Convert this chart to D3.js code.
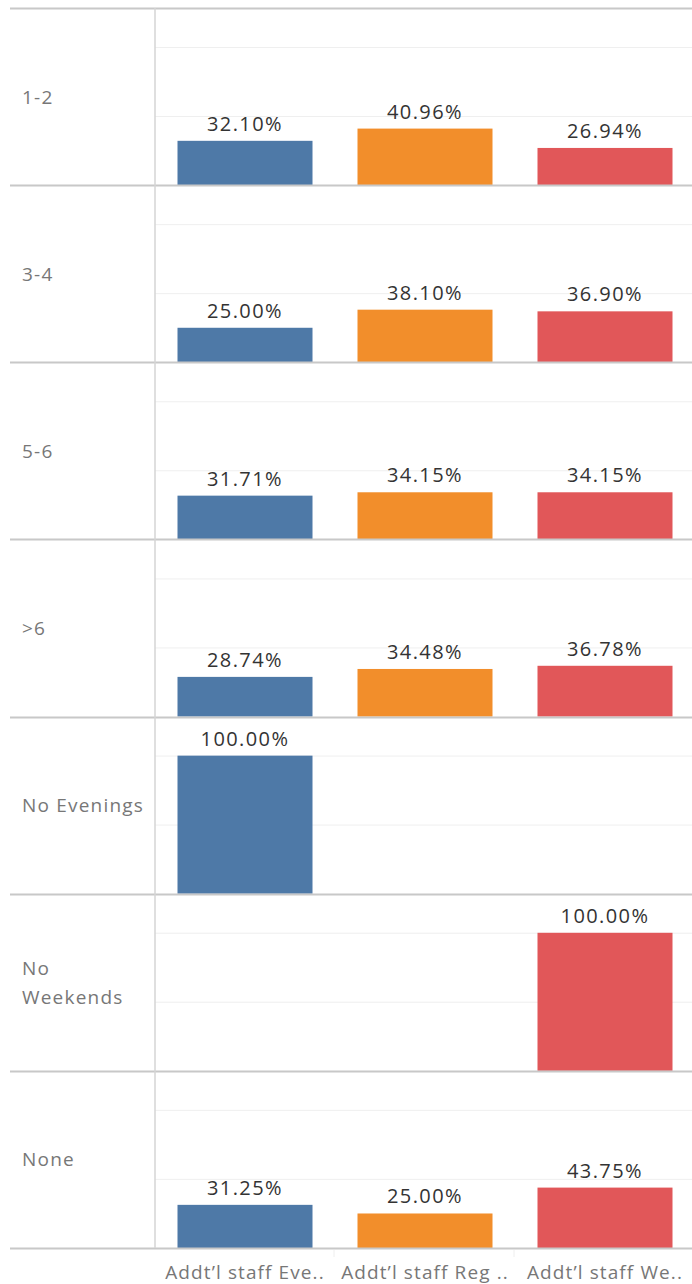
<!DOCTYPE html>
<html>
<head>
<meta charset="utf-8">
<script src="https://cdn.jsdelivr.net/npm/d3@7"></script>
<style>
  body { margin: 0; background: #fff; }
  svg text { font-family: "Open Sans", sans-serif; }
</style>
</head>
<body>
<div id="chart"></div>
<script>
// data
const rowLabels = ["1-2", "3-4", "5-6", ">6", "No Evenings", "No Weekends", "None"];
const colLabels = ["Addt\u2019l staff Eve..", "Addt\u2019l staff Reg ..", "Addt\u2019l staff We.."];
const evenings = [32.10, 25.00, 31.71, 28.74, 100.00, null, 31.25];
const regular  = [40.96, 38.10, 34.15, 34.48, null, null, 25.00];
const weekends = [26.94, 36.90, 34.15, 36.78, null, 100.00, 43.75];
const colors = ["#4e79a7", "#f28e2b", "#e15759"];
const gridTicks = [50, 100];

const W = 692, H = 1284;
const plotTop = 8, plotBottom = 1248, plotLeft = 10, divX = 155;
const series = [evenings, regular, weekends];

const svg = d3.select("#chart").append("svg")
  .attr("width", W).attr("height", H);

const rowScale = d3.scaleBand().domain(rowLabels).range([plotTop, plotBottom]);
const x = d3.scaleBand().domain(colLabels).range([155, 695]).paddingInner(0.25).paddingOuter(0.125);
const rh = rowScale.bandwidth();

// y inside a row: 0..max, 100% spans about 138px of a 177px row
const y = d3.scaleLinear().domain([0, 128.3]).range([rh, 0]);

rowLabels.forEach((r, ri) => {
  const g = svg.append("g").attr("transform", `translate(0,${rowScale(r)})`);

  // light gridlines
  g.selectAll("line.grid").data(gridTicks).enter().append("line")
    .attr("x1", divX).attr("x2", W)
    .attr("y1", d => Math.round(y(d)) + 0.5).attr("y2", d => Math.round(y(d)) + 0.5)
    .attr("stroke", "#efefef").attr("stroke-width", 1);

  const vals = series.map((s, i) => ({ col: colLabels[i], v: s[ri], c: colors[i] }))
    .filter(d => d.v != null);

  g.selectAll("rect").data(vals).enter().append("rect")
    .attr("x", d => x(d.col))
    .attr("width", x.bandwidth())
    .attr("y", d => y(d.v))
    .attr("height", d => y(0) - y(d.v))
    .attr("fill", d => d.c);

  g.selectAll("text.val").data(vals).enter().append("text")
    .attr("class", "val")
    .attr("x", d => x(d.col) + x.bandwidth() / 2)
    .attr("y", d => y(d.v) - 10)
    .attr("text-anchor", "middle")
    .attr("fill", "#333")
    .style("font-size", "20px")
    .style("letter-spacing", "1.4px")
    .text(d => d.v.toFixed(2) + "%");

  // row label, wrapped onto words if it does not fit the header column
  const lbl = g.append("text")
    .attr("x", 22)
    .attr("fill", "#777")
    .style("font-size", "19px")
    .style("letter-spacing", "1.2px")
    .text(r);
  if (lbl.node().getComputedTextLength() > 128) {
    lbl.text(null);
    const words = r.split(" ");
    words.forEach((w, i) => {
      lbl.append("tspan").attr("x", 22)
        .attr("y", rh / 2 + 7 + (i - (words.length - 1) / 2) * 29)
        .text(w);
    });
  } else {
    lbl.attr("y", rh / 2 + 7);
  }
});

// row separators
svg.selectAll("line.sep").data(d3.range(rowLabels.length + 1)).enter().append("line")
  .attr("x1", plotLeft).attr("x2", W)
  .attr("y1", i => Math.round(plotTop + i * rh) + 0.5)
  .attr("y2", i => Math.round(plotTop + i * rh) + 0.5)
  .attr("stroke", "#c8c8c8").attr("stroke-width", 2);

// vertical divider
svg.append("line")
  .attr("x1", divX).attr("x2", divX)
  .attr("y1", plotTop).attr("y2", plotBottom)
  .attr("stroke", "#d4d4d4").attr("stroke-width", 1.5);

// bottom axis
const axis = svg.append("g").attr("transform", `translate(0,${plotBottom})`);
axis.selectAll("line").data([334, 514]).enter().append("line")
  .attr("x1", d => d).attr("x2", d => d)
  .attr("y1", 2).attr("y2", 9)
  .attr("stroke", "#eee").attr("stroke-width", 1);
axis.selectAll("text").data(colLabels).enter().append("text")
  .attr("x", d => x(d) + x.bandwidth() / 2)
  .attr("y", 31)
  .attr("text-anchor", "middle")
  .attr("fill", "#777")
  .style("font-size", "19px")
  .style("letter-spacing", "1.1px")
  .text(d => d);
</script>
</body>
</html>
